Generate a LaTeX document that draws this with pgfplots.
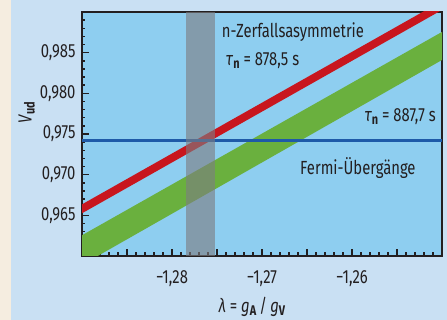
\documentclass[border=0pt]{standalone}
\usepackage{pgfplots}
\pgfplotsset{compat=1.18}
\usepackage{fontspec}
\setmainfont[FakeStretch=0.78]{Fira Sans}
\definecolor{outerbg}{RGB}{201,224,243}
\definecolor{beige}{RGB}{245,237,224}
\definecolor{axisbg}{RGB}{142,206,240}
\definecolor{redband}{RGB}{200,22,30}
\definecolor{greenband}{RGB}{106,176,62}
\definecolor{blueline}{RGB}{30,90,168}
\definecolor{grayband}{RGB}{125,125,130}
\definecolor{axisline}{RGB}{35,31,32}
\newcommand\sub[1]{\raisebox{-0.3ex}{\fontsize{14bp}{14bp}\selectfont\bfseries #1}}
\begin{document}
\begin{tikzpicture}
\fontsize{19bp}{22bp}\selectfont
\path[use as bounding box, fill=outerbg] (0,0) rectangle (447bp,320bp);
\fill[beige] (0,0) rectangle (11bp,320bp);
\begin{axis}[
  at={(82bp,64bp)}, anchor=south west,
  scale only axis, width=360bp, height=244bp,
  xmin=-1.29, xmax=-1.25, ymin=0.96, ymax=0.99,
  axis background/.style={fill=axisbg},
  axis line style={axisline, line width=1.5bp},
  xtick pos=bottom, ytick pos=left, tick align=inside,
  major tick length=7bp, minor tick length=3.5bp,
  every tick/.style={axisline, line width=1.5bp},
  xtick={-1.285,-1.28,-1.275,-1.27,-1.265,-1.26,-1.255},
  xticklabels={{},{−1,28},{},{−1,27},{},{−1,26},{}},
  minor xtick={-1.289,-1.288,...,-1.251},
  ytick={0.965,0.97,0.975,0.98,0.985},
  yticklabels={{0,965},{0,970},{0,975},{0,980},{0,985}},
  minor ytick={0.961,0.962,...,0.989},
  tick label style={font=\fontsize{19bp}{22bp}\selectfont, text=axisline},
  xticklabel style={yshift=-8bp},
  xlabel={\textit{λ} = \textit{g}\sub{A}\,/\,\textit{g}\sub{V}},
  ylabel={\textit{V}\sub{ud}},
  label style={font=\fontsize{19bp}{22bp}\selectfont, text=axisline, inner sep=0pt},
  xlabel style={at={(rel axis cs:0.472,-0.232)}, anchor=base},
  ylabel style={at={(rel axis cs:-0.1397,0.586)}, anchor=base, rotate=0},
]
\addplot[fill=greenband, draw=none] coordinates {(-1.29,0.9589) (-1.25,0.9841) (-1.25,0.98755) (-1.29,0.96255)} -- cycle;
\addplot[fill=redband, draw=none] coordinates {(-1.29,0.96525) (-1.25,0.99025) (-1.25,0.99135) (-1.29,0.96635)} -- cycle;
\addplot[blueline, line width=3bp] coordinates {(-1.29,0.9742) (-1.25,0.9742)};
\addplot[fill=grayband, fill opacity=0.62, draw=none] coordinates {(-1.2784,0.96) (-1.2752,0.96) (-1.2752,0.99) (-1.2784,0.99)} -- cycle;
\node[anchor=base west, inner sep=0pt, text=axisline] at (rel axis cs:0.388,0.8963) {n-Zerfallsasymmetrie};
\node[anchor=base west, inner sep=0pt, text=axisline] at (rel axis cs:0.4,0.7787) {\textit{τ}\sub{n} = 878,5 s};
\node[anchor=base east, inner sep=0pt, text=axisline] at (rel axis cs:0.9833,0.5504) {\textit{τ}\sub{n} = 887,7 s};
\node[anchor=base west, inner sep=0pt, text=axisline] at (rel axis cs:0.6056,0.332) {Fermi-Übergänge};
\end{axis}
\end{tikzpicture}
\end{document}
